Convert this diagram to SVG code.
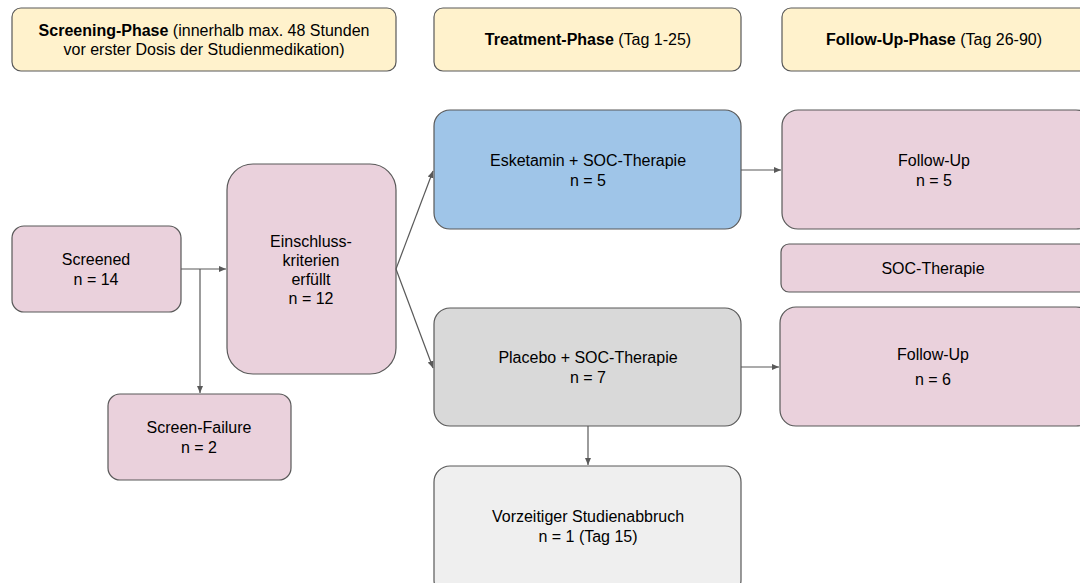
<svg xmlns="http://www.w3.org/2000/svg" width="1080" height="583" viewBox="0 0 1080 583">
<defs>
<marker id="ah" markerWidth="8" markerHeight="8" refX="7" refY="4" orient="auto" markerUnits="userSpaceOnUse">
<path d="M0,1 L7,4 L0,7 Z" fill="#595959"/>
</marker>
<style>
.b{stroke:#595959;stroke-width:1.2}
.pink{fill:#ead1dc}.yel{fill:#fff2cc}.blue{fill:#9fc5e8}.gray{fill:#d9d9d9}.lg{fill:#efefef}
text{font-family:"Liberation Sans",Arial,sans-serif;font-size:16px;fill:#000;text-anchor:middle}
.bo{font-weight:bold}
.c{stroke:#595959;stroke-width:1.2;fill:none}
</style>
</defs>
<rect width="1080" height="583" fill="#fff"/>
<g id="screening-phase"><rect class="b yel" x="12" y="8" width="384" height="63" rx="9"/>
<text x="204" y="36"><tspan class="bo">Screening-Phase</tspan> (innerhalb max. 48 Stunden</text>
<text x="204" y="55">vor erster Dosis der Studienmedikation)</text></g>
<g id="treatment-phase"><rect class="b yel" x="434" y="8" width="307" height="63" rx="9"/>
<text x="588" y="45"><tspan class="bo">Treatment-Phase</tspan> (Tag 1-25)</text></g>
<g id="followup-phase"><rect class="b yel" x="782" y="8" width="310" height="63" rx="9"/>
<text x="934" y="45"><tspan class="bo">Follow-Up-Phase</tspan> (Tag 26-90)</text></g>
<g id="screened"><rect class="b pink" x="12" y="226" width="169" height="86" rx="12"/>
<text x="96" y="265">Screened</text><text x="96" y="285">n = 14</text></g>
<g id="einschluss"><rect class="b pink" x="227" y="164" width="169" height="210" rx="26"/>
<text x="311" y="247">Einschluss-</text><text x="311" y="266">kriterien</text><text x="311" y="285">erfüllt</text><text x="311" y="304">n = 12</text></g>
<g id="screen-failure"><rect class="b pink" x="108" y="394" width="183" height="86" rx="12"/>
<text x="199" y="433">Screen-Failure</text><text x="199" y="453">n = 2</text></g>
<g id="esketamin"><rect class="b blue" x="434" y="110" width="307" height="119" rx="16"/>
<text x="588" y="166">Esketamin + SOC-Therapie</text><text x="588" y="186">n = 5</text></g>
<g id="placebo"><rect class="b gray" x="434" y="308" width="307" height="118" rx="16"/>
<text x="588" y="363">Placebo + SOC-Therapie</text><text x="588" y="383">n = 7</text></g>
<g id="abbruch"><rect class="b lg" x="434" y="466" width="307" height="130" rx="16"/>
<text x="588" y="522">Vorzeitiger Studienabbruch</text><text x="588" y="542">n = 1 (Tag 15)</text></g>
<g id="followup1"><rect class="b pink" x="782" y="110" width="310" height="119" rx="16"/>
<text x="934" y="166">Follow-Up</text><text x="934" y="186">n = 5</text></g>
<g id="soc"><rect class="b pink" x="781" y="244" width="310" height="48" rx="8"/>
<text x="933" y="274">SOC-Therapie</text></g>
<g id="followup2"><rect class="b pink" x="780" y="307" width="312" height="119" rx="16"/>
<text x="933" y="360">Follow-Up</text><text x="933" y="385">n = 6</text></g>
<g id="connectors">
<path class="c" d="M181,269 H226" marker-end="url(#ah)"/>
<path class="c" d="M200,269 V393" marker-end="url(#ah)"/>
<path class="c" d="M396,269 L433,171" marker-end="url(#ah)"/>
<path class="c" d="M396,269 L433,368" marker-end="url(#ah)"/>
<path class="c" d="M741,170 H781" marker-end="url(#ah)"/>
<path class="c" d="M741,367 H779" marker-end="url(#ah)"/>
<path class="c" d="M588,426 V465" marker-end="url(#ah)"/>
</g>
</svg>
